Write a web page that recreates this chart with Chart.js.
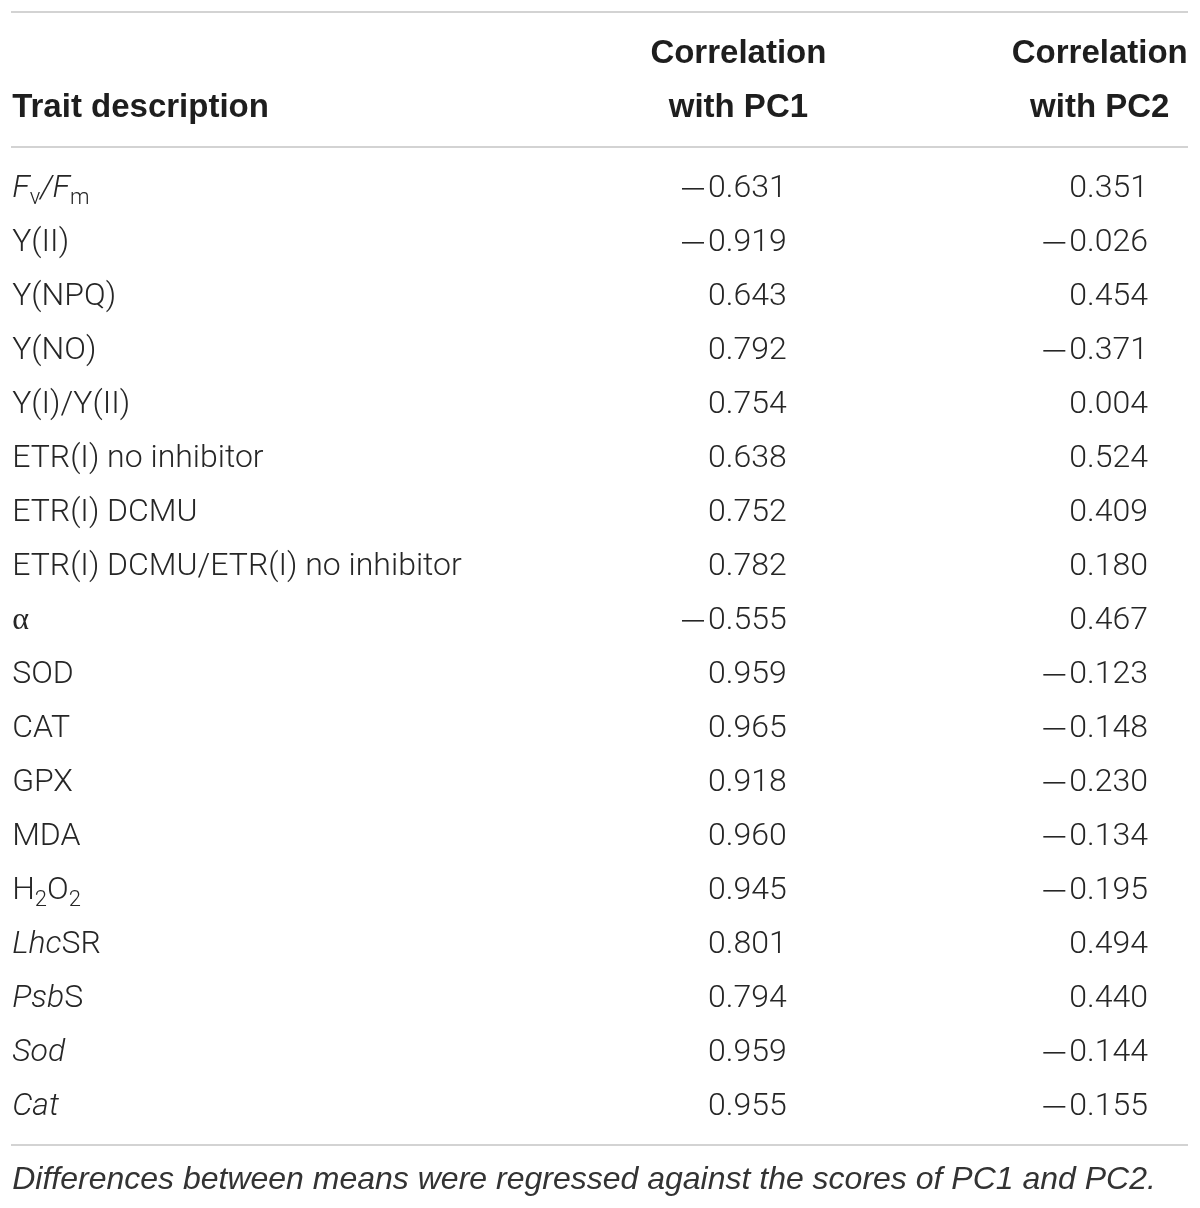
<!DOCTYPE html>
<html>
<head>
<meta charset="utf-8">
<script src="https://cdn.jsdelivr.net/npm/chart.js@4.4.1/dist/chart.umd.min.js"></script>
<style>
  html, body { margin: 0; padding: 0; background: #fff; }
  canvas { display: block; }
</style>
</head>
<body>
<canvas id="table" width="1200" height="1208"></canvas>
<script>
// row labels: *..* = italic, _..._ = subscript, ~..~ = serif
const traits = [
  '*F*_v_*/F*_m_', 'Y(II)', 'Y(NPQ)', 'Y(NO)', 'Y(I)/Y(II)',
  'ETR(I) no inhibitor', 'ETR(I) DCMU', 'ETR(I) DCMU/ETR(I) no inhibitor',
  '~α~', 'SOD', 'CAT', 'GPX', 'MDA', 'H_2_O_2_',
  '*Lhc*SR', '*Psb*S', '*Sod*', '*Cat*'
];
const pc1 = [-0.631, -0.919, 0.643, 0.792, 0.754, 0.638, 0.752, 0.782, -0.555,
             0.959, 0.965, 0.918, 0.960, 0.945, 0.801, 0.794, 0.959, 0.955];
const pc2 = [0.351, -0.026, 0.454, -0.371, 0.004, 0.524, 0.409, 0.180, 0.467,
             -0.123, -0.148, -0.230, -0.134, -0.195, 0.494, 0.440, -0.144, -0.155];
const headers = [['Trait description'], ['Correlation', 'with PC1'], ['Correlation', 'with PC2']];
const footnote = 'Differences between means were regressed against the scores of PC1 and PC2.';

// column anchors on the x scale (0..100 = table width)
const COL = { trait: 0.1, pc1: 65.9, pc2: 96.6, h1: 61.8, h2: 92.5 };
const FONT = '"Liberation Sans", Arial, sans-serif';
const BODY = '300 32px Roboto, "Liberation Sans", sans-serif';
const TEXT = '#262626';
const RULE = '#c4c4c4';

// split markup into runs {text, italic, sub, serif}
function runs(s) {
  const out = [];
  let italic = false, sub = false, serif = false, buf = '';
  for (const ch of s) {
    if (ch === '*' || ch === '_' || ch === '~') {
      if (buf) out.push({ text: buf, italic, sub, serif });
      buf = '';
      if (ch === '*') italic = !italic;
      else if (ch === '_') sub = !sub;
      else serif = !serif;
    } else buf += ch;
  }
  if (buf) out.push({ text: buf, italic, sub, serif });
  return out;
}

function drawRich(ctx, s, x, y, size) {
  let cx = x;
  for (const r of runs(s)) {
    const fs = r.sub ? Math.round(size * 0.7) : size;
    const fam = r.serif ? '"Liberation Serif", serif' : 'Roboto, "Liberation Sans", sans-serif';
    ctx.font = (r.italic ? 'italic ' : '') + (r.serif ? '' : '300 ') + fs + 'px ' + fam;
    ctx.fillText(r.text, cx, r.sub ? y + size * 0.3 : y);
    cx += ctx.measureText(r.text).width;
  }
}

// right aligned number with a long minus sign
function drawValue(ctx, v, x, y) {
  const body = Math.abs(v).toFixed(3);
  ctx.font = BODY;
  ctx.textAlign = 'right';
  ctx.fillText(body, x, y);
  if (v < 0) {
    const w = ctx.measureText(body).width;
    ctx.fillRect(x - w - 26, y - 1, 22, 1.6);
  }
}

const tablePlugin = {
  id: 'tablePlugin',
  afterDatasetsDraw(chart) {
    const { ctx, chartArea, scales } = chart;
    const x = scales.x, y = scales.y;
    const left = x.getPixelForValue(0), right = x.getPixelForValue(100);
    ctx.save();

    // rules
    ctx.strokeStyle = RULE;
    ctx.lineWidth = 1.5;
    [chartArea.top - 148, chartArea.top - 13, chartArea.bottom + 13].forEach(py => {
      ctx.beginPath();
      ctx.moveTo(left, py);
      ctx.lineTo(right, py);
      ctx.stroke();
    });

    // header
    ctx.fillStyle = '#1e1e1e';
    ctx.textBaseline = 'middle';
    ctx.font = 'bold 33px ' + FONT;
    ctx.textAlign = 'left';
    ctx.fillText(headers[0][0], x.getPixelForValue(COL.trait), chartArea.top - 52);
    ctx.textAlign = 'center';
    [[headers[1], COL.h1], [headers[2], COL.h2]].forEach(([lines, c]) => {
      ctx.fillText(lines[0], x.getPixelForValue(c), chartArea.top - 106);
      ctx.fillText(lines[1], x.getPixelForValue(c), chartArea.top - 52);
    });

    // trait names
    ctx.fillStyle = TEXT;
    ctx.textAlign = 'left';
    traits.forEach(t => {
      drawRich(ctx, t, x.getPixelForValue(COL.trait), y.getPixelForValue(t) + 2, 32);
    });

    // values, right aligned at their point
    chart.data.datasets.forEach((ds, di) => {
      chart.getDatasetMeta(di).data.forEach((pt, i) => {
        drawValue(ctx, ds.data[i].v, pt.x, pt.y + 2);
      });
    });

    // footnote
    ctx.fillStyle = '#333';
    ctx.textAlign = 'left';
    ctx.font = 'italic 32px ' + FONT;
    ctx.fillText(footnote, x.getPixelForValue(COL.trait), chartArea.bottom + 48);
    ctx.restore();
  }
};

new Chart(document.getElementById('table'), {
  type: 'scatter',
  data: {
    labels: traits,
    datasets: [
      { label: 'PC1', data: pc1.map((v, i) => ({ x: COL.pc1, y: traits[i], v })), pointRadius: 0 },
      { label: 'PC2', data: pc2.map((v, i) => ({ x: COL.pc2, y: traits[i], v })), pointRadius: 0 }
    ]
  },
  options: {
    responsive: false,
    animation: false,
    devicePixelRatio: 1,
    layout: { padding: { left: 11, right: 12, top: 160, bottom: 76 } },
    scales: {
      x: { type: 'linear', min: 0, max: 100, display: false },
      y: { type: 'category', labels: traits, offset: true, display: false }
    },
    plugins: {
      legend: { display: false },
      tooltip: { enabled: false }
    }
  },
  plugins: [tablePlugin]
});
</script>
</body>
</html>
